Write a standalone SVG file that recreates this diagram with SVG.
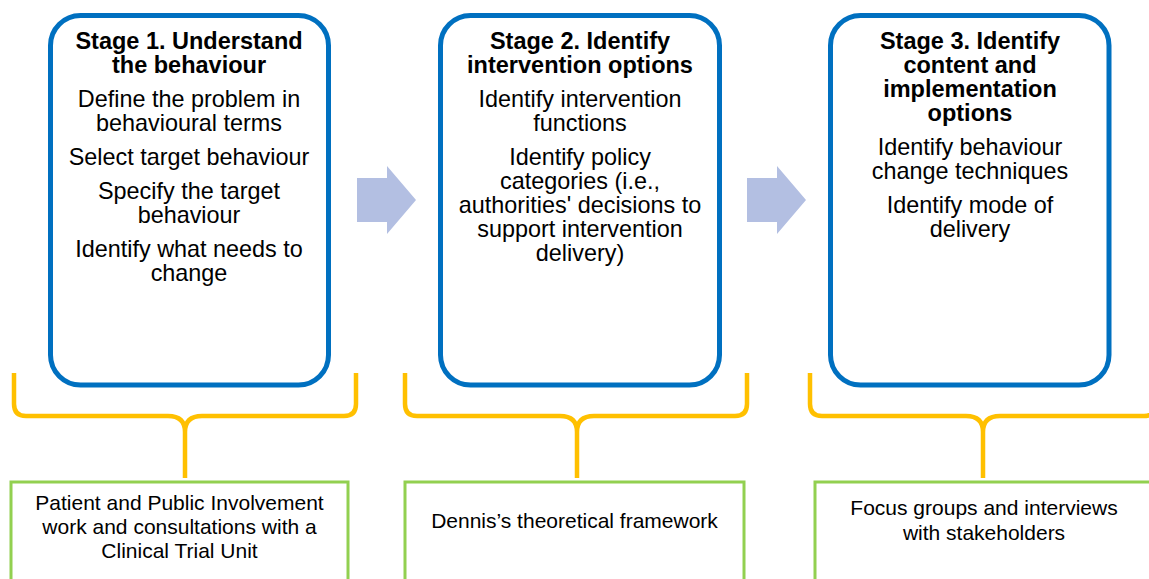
<svg xmlns="http://www.w3.org/2000/svg" width="1149" height="579" viewBox="0 0 1149 579">
<style>
.stage{fill:#fff;stroke:#0070C0;stroke-width:5}
.src{fill:#fff;stroke:#92D050;stroke-width:3}
.brace{fill:none;stroke:#FFC000;stroke-width:4.5;stroke-linejoin:round}
.arrow{fill:#B3BFE2}
text{font-family:"Liberation Sans",Arial,sans-serif;fill:#000;text-anchor:middle}
.t{font-size:23.5px;font-weight:bold}
.b{font-size:23.4px}
.g{font-size:21px}
</style>
<rect width="1149" height="579" fill="#fff"/>
<g id="connectors">
<polygon class="arrow" points="357,178 387,178 387,166 416,200 387,234 387,222 357,222"/>
<polygon class="arrow" points="747,178 777,178 777,166 806,200 777,234 777,222 747,222"/>
<path class="brace" d="M14,373 V404 Q14,416 26,416 H168 Q185,416 185,432 V478 M356,373 V404 Q356,416 344,416 H202 Q185,416 185,432"/>
<path class="brace" d="M405,373 V404 Q405,416 417,416 H560 Q577,416 577,432 V478 M747,373 V404 Q747,416 735,416 H594 Q577,416 577,432"/>
<path class="brace" d="M810,373 V404 Q810,416 822,416 H966 Q983,416 983,432 V478 M1156,373 V404 Q1156,416 1144,416 H1000 Q983,416 983,432"/>
</g>
<g id="stage1">
<rect class="stage" x="50.5" y="15.5" width="278" height="369.5" rx="30"/>
<text class="t" x="189" y="49">Stage 1. Understand</text>
<text class="t" x="189" y="73">the behaviour</text>
<text class="b" x="189" y="107">Define the problem in</text>
<text class="b" x="189" y="131">behavioural terms</text>
<text class="b" x="189" y="165">Select target behaviour</text>
<text class="b" x="189" y="199">Specify the target</text>
<text class="b" x="189" y="223">behaviour</text>
<text class="b" x="189" y="257">Identify what needs to</text>
<text class="b" x="189" y="281">change</text>
</g>
<g id="stage2">
<rect class="stage" x="440.5" y="15.5" width="279" height="369.5" rx="30"/>
<text class="t" x="580" y="49">Stage 2. Identify</text>
<text class="t" x="580" y="73">intervention options</text>
<text class="b" x="580" y="107">Identify intervention</text>
<text class="b" x="580" y="131">functions</text>
<text class="b" x="580" y="165">Identify policy</text>
<text class="b" x="580" y="189">categories (i.e.,</text>
<text class="b" x="580" y="213">authorities' decisions to</text>
<text class="b" x="580" y="237">support intervention</text>
<text class="b" x="580" y="261">delivery)</text>
</g>
<g id="stage3">
<rect class="stage" x="830.5" y="15.5" width="278.5" height="369.5" rx="30"/>
<text class="t" x="970" y="49">Stage 3. Identify</text>
<text class="t" x="970" y="73">content and</text>
<text class="t" x="970" y="97">implementation</text>
<text class="t" x="970" y="121">options</text>
<text class="b" x="970" y="155">Identify behaviour</text>
<text class="b" x="970" y="179">change techniques</text>
<text class="b" x="970" y="213">Identify mode of</text>
<text class="b" x="970" y="237">delivery</text>
</g>
<g id="source1">
<rect class="src" x="11" y="482" width="337" height="110"/>
<text class="g" x="179.5" y="510">Patient and Public Involvement</text>
<text class="g" x="179.5" y="534">work and consultations with a</text>
<text class="g" x="179.5" y="558">Clinical Trial Unit</text>
</g>
<g id="source2">
<rect class="src" x="405" y="482" width="339" height="110"/>
<text class="g" x="574.5" y="528">Dennis’s theoretical framework</text>
</g>
<g id="source3">
<rect class="src" x="815" y="482" width="350" height="110"/>
<text class="g" x="984" y="515">Focus groups and interviews</text>
<text class="g" x="984" y="540">with stakeholders</text>
</g>
</svg>
